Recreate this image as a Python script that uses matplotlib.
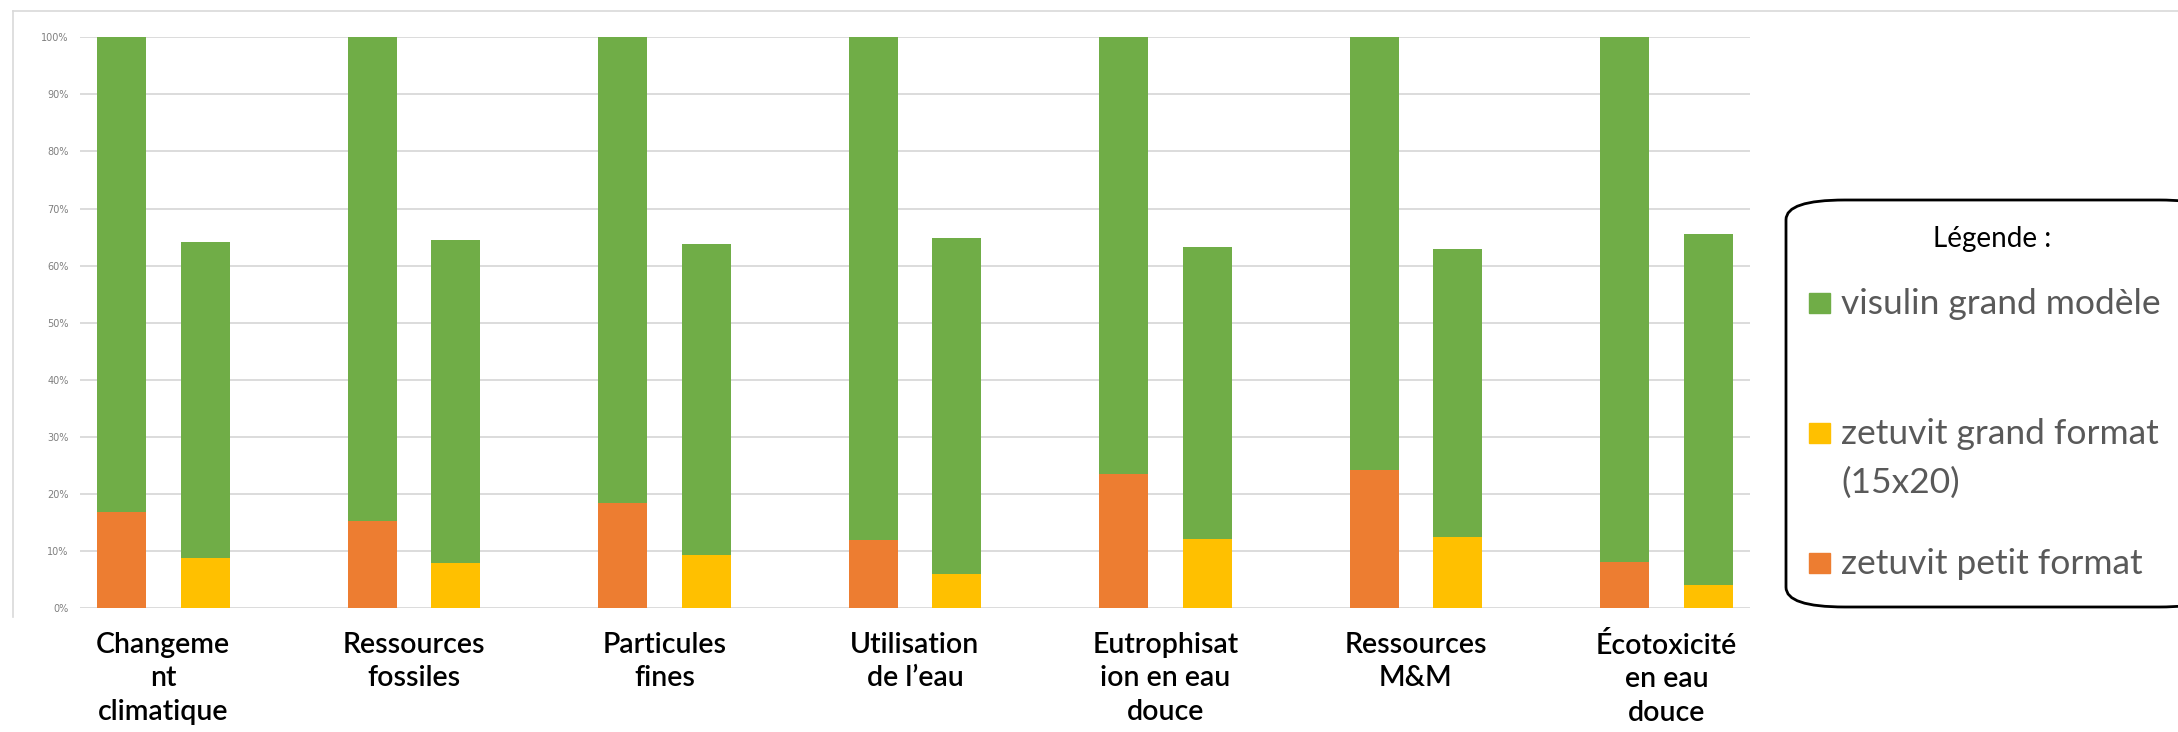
import numpy as np
import matplotlib
matplotlib.use("Agg")
import matplotlib.pyplot as plt
from matplotlib.patches import FancyBboxPatch, Rectangle
from matplotlib.lines import Line2D

# Data (percent)
categories = ["Changeme\nnt\nclimatique", "Ressources\nfossiles", "Particules\nfines",
              "Utilisation\nde l\u2019eau", "Eutrophisat\nion en eau\ndouce",
              "Ressources\nM&M", "\u00c9cotoxicit\u00e9\nen eau\ndouce"]
petit_format = [16.8, 15.2, 18.4, 11.9, 23.4, 24.1, 8.0]
visulin_vs_petit = [83.2, 84.8, 81.6, 88.1, 76.6, 75.9, 92.0]
grand_format = [8.8, 7.8, 9.3, 6.0, 12.1, 12.4, 4.1]
visulin_vs_grand = [55.3, 56.6, 54.5, 58.8, 51.1, 50.5, 61.4]
y_ticks = list(range(0, 101, 10))

GREEN = "#70AD47"
ORANGE = "#ED7D31"
YELLOW = "#FFC000"

W, H = 2178, 732
fig = plt.figure(figsize=(W / 100, H / 100), dpi=100)

def px(x0, y0, x1, y1):
    # pixel box (top-left origin) -> figure fraction rect
    return [x0 / W, 1 - y1 / H, (x1 - x0) / W, (y1 - y0) / H]

# outer chart frame (top and left edges only visible)
fig.add_artist(Line2D([12.7 / W, 1.01], [1 - 10.7 / H] * 2, color="#d9d9d9", lw=1.2))
fig.add_artist(Line2D([12.7 / W] * 2, [1 - 10.7 / H, 1 - 617 / H], color="#d9d9d9", lw=1.2))

ax = fig.add_axes(px(79.75, 37.3, 1750, 608))
n = len(categories)
x_left = np.arange(n) * 3
x_right = x_left + 1
bw = 0.587

ax.bar(x_left, petit_format, bw, color=ORANGE, zorder=3)
ax.bar(x_left, visulin_vs_petit, bw, bottom=petit_format, color=GREEN, zorder=3)
ax.bar(x_right, grand_format, bw, color=YELLOW, zorder=3)
ax.bar(x_right, visulin_vs_grand, bw, bottom=grand_format, color=GREEN, zorder=3)

ax.set_xlim(-0.5, 3 * n - 1.5)
ax.set_ylim(0, 100)
ax.set_yticks(y_ticks)
ax.set_yticklabels([f"{v}%" for v in y_ticks], fontsize=7, color="#7f7f7f")
ax.grid(axis="y", color="#d9d9d9", lw=1.3, zorder=0)
ax.tick_params(axis="y", length=0, pad=8)
for s in ax.spines.values():
    s.set_visible(False)

ax.set_xticks(x_left + 0.5)
ax.set_xticklabels(categories, fontsize=20.5, family="Lato", fontweight="semibold",
                   color="black", linespacing=1.36, va="top")
ax.tick_params(axis="x", length=0, pad=17)

# legend box, drawn by hand to match the rounded frame
box = FancyBboxPatch((1786 / W, 1 - 607 / H), (W + 40 - 1786) / W, (607 - 200) / H,
                     boxstyle="round,pad=0,rounding_size=0.027", transform=fig.transFigure,
                     facecolor="white", edgecolor="black", lw=2, mutation_aspect=H / W * 2.97)
fig.add_artist(box)
fig.text(1992 / W, 1 - 247 / H, "L\u00e9gende :", ha="center", va="baseline",
         fontsize=20, family="Lato", color="black")

legend_items = [(GREEN, ["visulin grand mod\u00e8le"], 313),
                (YELLOW, ["zetuvit grand format", "(15x20)"], 443),
                (ORANGE, ["zetuvit petit format"], 573)]
for col, lines, base in legend_items:
    fig.add_artist(Rectangle((1809 / W, 1 - base / H), 21 / W, 20 / H,
                             transform=fig.transFigure, color=col))
    for k, line in enumerate(lines):
        fig.text(1841 / W, 1 - (base + 1 + 49 * k) / H, line, ha="left", va="baseline",
                 fontsize=25.5, family="Lato", color="#595959")

fig.savefig("out.png", dpi=100)
